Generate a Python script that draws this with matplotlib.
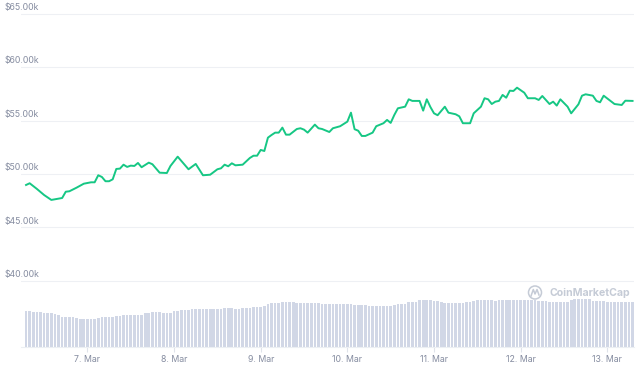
import pandas as pd
import matplotlib
matplotlib.use('Agg')
import matplotlib.pyplot as plt
from matplotlib.patches import Ellipse
from matplotlib.lines import Line2D
import matplotlib.dates as mdates

plt.rcParams['font.family'] = ['Inter', 'DejaVu Sans']

# hourly data, starting 6 Mar 07:00
start = pd.Timestamp('2021-03-06 07:00')

price_hours = [0, 1, 3, 5, 7, 9, 10, 11, 12, 14, 16, 18, 19, 20, 21, 22, 23, 24, 25, 26,
               27, 28, 29, 30, 31, 32, 33, 34, 35, 37, 39, 40, 42, 45, 47, 49, 51, 53, 54, 55,
               56, 57, 58, 60, 62, 63, 64, 65, 66, 67, 68, 69, 70, 71, 72, 73, 75, 76, 77, 78,
               80, 81, 82, 84, 85, 87, 89, 90, 91, 92, 93, 94, 96, 97, 99, 100, 101, 102, 103, 105,
               106, 107, 109, 110, 111, 112, 113, 114, 116, 117, 119, 120, 121, 123, 124, 126, 127, 128, 129, 130,
               131, 132, 133, 134, 135, 136, 138, 139, 141, 142, 143, 145, 146, 147, 148, 150, 151, 153, 154, 155,
               157, 158, 159, 160, 163, 165, 166, 168]
price_usd = [48970, 49130, 48600, 48030, 47570, 47690, 47750, 48340, 48380, 48720,
             49090, 49220, 49220, 49880, 49720, 49320, 49320, 49500, 50470, 50500,
             50870, 50660, 50780, 50750, 51030, 50630, 50840, 51060, 50910, 50120,
             50090, 50750, 51620, 50440, 50940, 49880, 49930, 50440, 50530, 50870,
             50720, 51000, 50810, 50870, 51500, 51710, 51710, 52250, 52150, 53400,
             53650, 53870, 53870, 54340, 53680, 53680, 54210, 54280, 54150, 53870,
             54620, 54280, 54210, 53930, 54280, 54470, 54900, 55740, 54190, 54050,
             53560, 53560, 53870, 54470, 54750, 55060, 54780, 55520, 56150, 56300,
             56990, 56840, 56840, 55930, 56990, 56270, 55680, 55500, 56300, 55740,
             55590, 55400, 54750, 54750, 55680, 56300, 57090, 56990, 56550, 56770,
             56840, 57400, 57140, 57800, 57770, 58080, 57610, 57090, 57090, 56930,
             57300, 56550, 56770, 56400, 56990, 56300, 55680, 56520, 57330, 57460,
             57330, 56840, 56710, 57330, 56550, 56460, 56860, 56840]

# hourly volume (billion USD)
volume_bn = [3.63, 3.60, 3.55, 3.47, 3.47, 3.42, 3.40, 3.40, 3.30, 3.17,
             3.00, 2.97, 2.97, 2.97, 2.87, 2.85, 2.85, 2.83, 2.83, 2.85,
             2.93, 2.97, 2.97, 2.97, 3.03, 3.10, 3.13, 3.17, 3.23, 3.23,
             3.23, 3.23, 3.23, 3.37, 3.37, 3.50, 3.50, 3.50, 3.45, 3.43,
             3.43, 3.63, 3.65, 3.73, 3.73, 3.73, 3.83, 3.83, 3.83, 3.83,
             3.83, 3.77, 3.77, 3.77, 3.77, 3.87, 3.87, 3.87, 3.85, 3.85,
             3.87, 3.87, 3.95, 4.00, 4.03, 4.05, 4.10, 4.30, 4.37, 4.40,
             4.40, 4.50, 4.53, 4.50, 4.50, 4.43, 4.40, 4.40, 4.40, 4.40,
             4.37, 4.37, 4.35, 4.33, 4.30, 4.27, 4.27, 4.30, 4.33, 4.33,
             4.33, 4.23, 4.20, 4.20, 4.17, 4.10, 4.07, 4.07, 4.07, 4.13,
             4.13, 4.13, 4.20, 4.27, 4.30, 4.30, 4.47, 4.50, 4.53, 4.70,
             4.73, 4.73, 4.70, 4.60, 4.57, 4.50, 4.43, 4.43, 4.43, 4.43,
             4.43, 4.43, 4.50, 4.55, 4.65, 4.73, 4.73, 4.73, 4.73, 4.73,
             4.63, 4.70, 4.73, 4.73, 4.73, 4.73, 4.73, 4.73, 4.73, 4.73,
             4.73, 4.73, 4.60, 4.57, 4.57, 4.53, 4.53, 4.55, 4.53, 4.53,
             4.53, 4.70, 4.77, 4.80, 4.80, 4.77, 4.77, 4.63, 4.60, 4.57,
             4.57, 4.53, 4.53, 4.50, 4.50, 4.50, 4.50, 4.50, 4.50]

grid_prices = [40000, 45000, 50000, 55000, 60000, 65000]
day_ticks = pd.date_range('2021-03-07', '2021-03-13', freq='D')

price_t = start + pd.to_timedelta(price_hours, unit='h')
vol_t = start + pd.to_timedelta(range(len(volume_bn)), unit='h')

label_col = '#858ca0'
fig = plt.figure(figsize=(6.4, 3.71), dpi=100)
ax = fig.add_axes([21 / 640, 24 / 371, 613 / 640, 342 / 371])
ax.bar(vol_t, volume_bn, width=0.74 / 24, color='#d1d7e6', linewidth=0)
ax.set_ylim(0, 34.2)
ax.set_xlim(start - pd.Timedelta(hours=1.4), start + pd.Timedelta(hours=168.4))
ax.set_yticks([])
ax.set_xticks(day_ticks)
ax.xaxis.set_major_formatter(mdates.DateFormatter('%-d. %b'))
ax.tick_params(axis='x', length=3.5, width=0.8, color='#dfe3ea', labelcolor=label_col,
               labelsize=6.3, pad=2)
for s in ['top', 'right', 'left']:
    ax.spines[s].set_visible(False)
ax.spines['bottom'].set_color('#eceff3')
ax.spines['bottom'].set_linewidth(0.8)

axp = ax.twinx()
axp.set_ylim(33800, 65820)
for p in grid_prices:
    axp.axhline(p, color='#eef0f4', lw=0.8, zorder=0)
    axp.annotate('$%.2fk' % (p / 1000), xy=(5 / 640, p), xycoords=('figure fraction', 'data'),
                 xytext=(0, 1.2), textcoords='offset points', ha='left', va='bottom',
                 fontsize=6.3, color=label_col, annotation_clip=False)
axp.plot(price_t, price_usd, color='#16c784', lw=1.4, solid_joinstyle='round', zorder=3)
axp.set_yticks([])
for s in axp.spines.values():
    s.set_visible(False)

# watermark
wm = '#c5cbd6'
fig.patches.append(Ellipse((535 / 640, 1 - 292.5 / 371), 13 / 640, 13 / 371,
                           transform=fig.transFigure, fill=False, ec=wm, lw=1.1))
fig.lines.append(Line2D([531 / 640, 533.3 / 640, 535 / 640, 537 / 640, 539 / 640],
                        [1 - 296 / 371, 1 - 289.5 / 371, 1 - 294 / 371, 1 - 289.5 / 371, 1 - 295 / 371],
                        transform=fig.transFigure, color=wm, lw=1.1))
fig.text(549 / 640, 1 - 292.5 / 371, 'CoinMarketCap', ha='left', va='center',
         fontsize=7.6, color=wm, fontweight='bold')

fig.savefig('out.png', dpi=100)
